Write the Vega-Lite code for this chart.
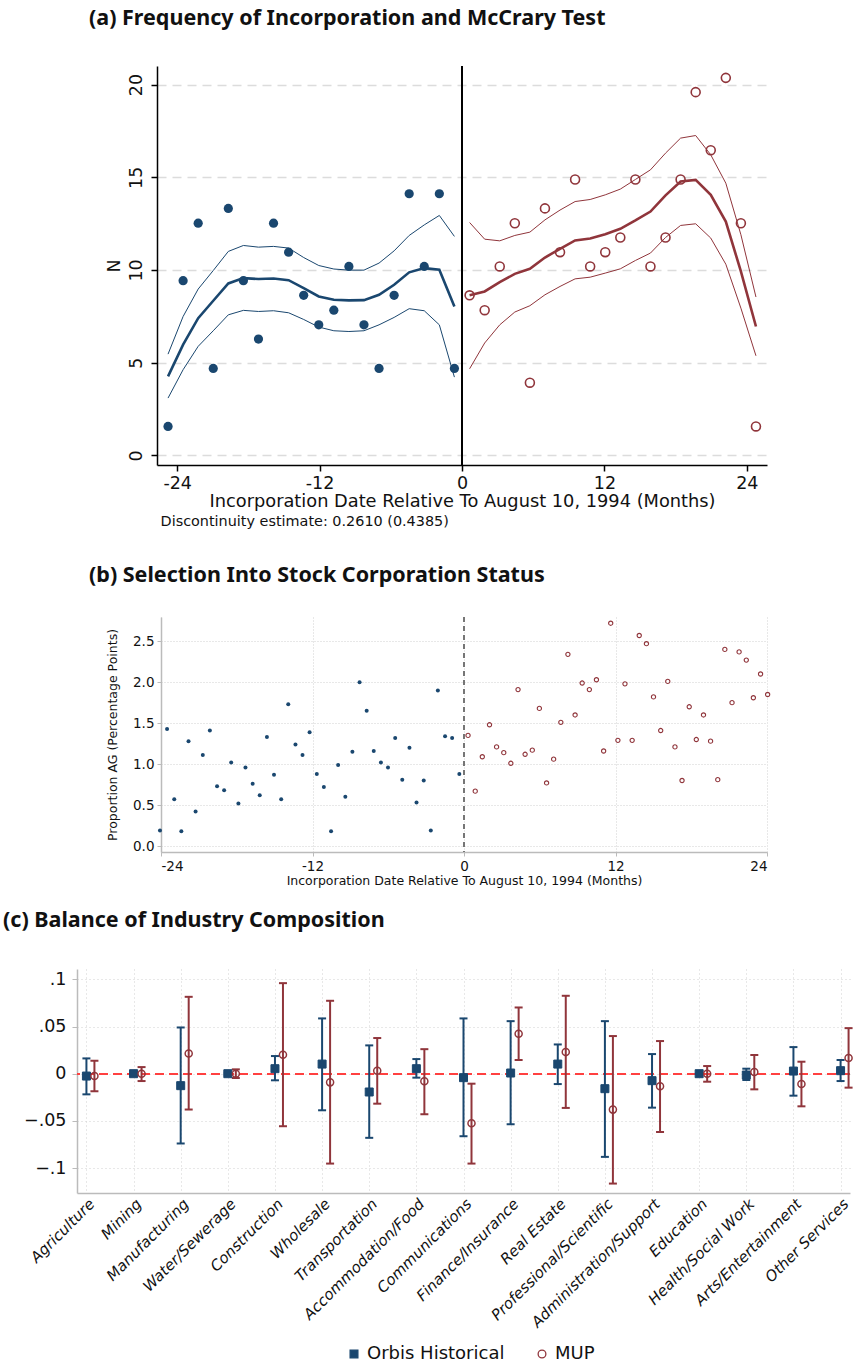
{
  "$schema": "https://vega.github.io/schema/vega-lite/v6.json",
  "background": "white",
  "padding": {"left": 3, "top": 7, "right": 0, "bottom": 0},
  "spacing": 22,
  "config": {
    "view": {"stroke": null},
    "font": "DejaVu Sans",
    "title": {"font": "Noto Sans", "fontWeight": "bold", "fontSize": 21.5, "anchor": "start", "color": "#111111", "frame": "group"},
    "axis": {"labelColor": "#111111", "titleColor": "#111111", "titleFontWeight": "normal", "labelFont": "DejaVu Sans", "titleFont": "DejaVu Sans"}
  },
  "datasets": {
    "a": [
      {"x": -24.77, "n": 1.56, "fit": 4.26, "hi": 5.46, "lo": 3.09, "side": "pre"},
      {"x": -23.50, "n": 9.42, "fit": 5.97, "hi": 7.49, "lo": 4.62, "side": "pre"},
      {"x": -22.23, "n": 12.52, "fit": 7.40, "hi": 8.97, "lo": 5.88, "side": "pre"},
      {"x": -20.96, "n": 4.69, "fit": 8.34, "hi": 9.97, "lo": 6.72, "side": "pre"},
      {"x": -19.69, "n": 13.32, "fit": 9.27, "hi": 11.00, "lo": 7.58, "side": "pre"},
      {"x": -18.42, "n": 9.42, "fit": 9.56, "hi": 11.32, "lo": 7.82, "side": "pre"},
      {"x": -17.15, "n": 6.27, "fit": 9.51, "hi": 11.23, "lo": 7.76, "side": "pre"},
      {"x": -15.88, "n": 12.52, "fit": 9.54, "hi": 11.27, "lo": 7.80, "side": "pre"},
      {"x": -14.61, "n": 10.96, "fit": 9.45, "hi": 11.18, "lo": 7.69, "side": "pre"},
      {"x": -13.34, "n": 8.63, "fit": 9.02, "hi": 10.67, "lo": 7.33, "side": "pre"},
      {"x": -12.07, "n": 7.04, "fit": 8.57, "hi": 10.24, "lo": 6.92, "side": "pre"},
      {"x": -10.80, "n": 7.83, "fit": 8.39, "hi": 10.05, "lo": 6.72, "side": "pre"},
      {"x": -9.53, "n": 10.19, "fit": 8.36, "hi": 9.99, "lo": 6.68, "side": "pre"},
      {"x": -8.26, "n": 7.04, "fit": 8.37, "hi": 9.99, "lo": 6.72, "side": "pre"},
      {"x": -6.99, "n": 4.69, "fit": 8.66, "hi": 10.37, "lo": 7.04, "side": "pre"},
      {"x": -5.72, "n": 8.63, "fit": 9.20, "hi": 11.03, "lo": 7.44, "side": "pre"},
      {"x": -4.45, "n": 14.11, "fit": 9.87, "hi": 11.86, "lo": 7.91, "side": "pre"},
      {"x": -3.18, "n": 10.19, "fit": 10.10, "hi": 12.43, "lo": 7.80, "side": "pre"},
      {"x": -1.91, "n": 14.11, "fit": 10.01, "hi": 12.94, "lo": 7.04, "side": "pre"},
      {"x": -0.64, "n": 4.69, "fit": 8.03, "hi": 11.81, "lo": 4.22, "side": "pre"},
      {"x": 0.64, "n": 8.63, "fit": 8.63, "hi": 12.56, "lo": 4.67, "side": "post"},
      {"x": 1.91, "n": 7.83, "fit": 8.84, "hi": 11.66, "lo": 6.06, "side": "post"},
      {"x": 3.18, "n": 10.19, "fit": 9.34, "hi": 11.57, "lo": 7.04, "side": "post"},
      {"x": 4.45, "n": 12.52, "fit": 9.79, "hi": 11.86, "lo": 7.73, "side": "post"},
      {"x": 5.72, "n": 3.92, "fit": 10.06, "hi": 12.04, "lo": 8.07, "side": "post"},
      {"x": 6.99, "n": 13.32, "fit": 10.67, "hi": 12.70, "lo": 8.66, "side": "post"},
      {"x": 8.26, "n": 10.96, "fit": 11.14, "hi": 13.23, "lo": 9.11, "side": "post"},
      {"x": 9.53, "n": 14.88, "fit": 11.59, "hi": 13.69, "lo": 9.52, "side": "post"},
      {"x": 10.80, "n": 10.19, "fit": 11.70, "hi": 13.80, "lo": 9.61, "side": "post"},
      {"x": 12.07, "n": 10.96, "fit": 11.93, "hi": 14.05, "lo": 9.83, "side": "post"},
      {"x": 13.34, "n": 11.75, "fit": 12.22, "hi": 14.36, "lo": 10.06, "side": "post"},
      {"x": 14.61, "n": 14.88, "fit": 12.67, "hi": 14.88, "lo": 10.51, "side": "post"},
      {"x": 15.88, "n": 10.19, "fit": 13.15, "hi": 15.40, "lo": 10.91, "side": "post"},
      {"x": 17.15, "n": 11.75, "fit": 14.02, "hi": 16.30, "lo": 11.75, "side": "post"},
      {"x": 18.42, "n": 14.88, "fit": 14.77, "hi": 17.11, "lo": 12.40, "side": "post"},
      {"x": 19.69, "n": 19.59, "fit": 14.86, "hi": 17.25, "lo": 12.49, "side": "post"},
      {"x": 20.96, "n": 16.46, "fit": 14.05, "hi": 16.21, "lo": 11.72, "side": "post"},
      {"x": 22.23, "n": 20.36, "fit": 12.61, "hi": 14.68, "lo": 10.31, "side": "post"},
      {"x": 23.50, "n": 12.52, "fit": 9.92, "hi": 11.90, "lo": 7.94, "side": "post"},
      {"x": 24.77, "n": 1.56, "fit": 6.95, "hi": 8.54, "lo": 5.37, "side": "post"}
    ],
    "b": [
      {"x": -24.08, "y": 0.19, "side": "pre"}, {"x": -23.52, "y": 1.43, "side": "pre"}, {"x": -22.95, "y": 0.57, "side": "pre"},
      {"x": -22.39, "y": 0.18, "side": "pre"}, {"x": -21.82, "y": 1.28, "side": "pre"}, {"x": -21.26, "y": 0.42, "side": "pre"},
      {"x": -20.69, "y": 1.11, "side": "pre"}, {"x": -20.13, "y": 1.41, "side": "pre"}, {"x": -19.56, "y": 0.73, "side": "pre"},
      {"x": -19.00, "y": 0.68, "side": "pre"}, {"x": -18.44, "y": 1.02, "side": "pre"}, {"x": -17.87, "y": 0.52, "side": "pre"},
      {"x": -17.31, "y": 0.96, "side": "pre"}, {"x": -16.74, "y": 0.76, "side": "pre"}, {"x": -16.18, "y": 0.62, "side": "pre"},
      {"x": -15.61, "y": 1.33, "side": "pre"}, {"x": -15.05, "y": 0.87, "side": "pre"}, {"x": -14.48, "y": 0.57, "side": "pre"},
      {"x": -13.92, "y": 1.73, "side": "pre"}, {"x": -13.35, "y": 1.24, "side": "pre"}, {"x": -12.79, "y": 1.11, "side": "pre"},
      {"x": -12.23, "y": 1.39, "side": "pre"}, {"x": -11.66, "y": 0.88, "side": "pre"}, {"x": -11.10, "y": 0.72, "side": "pre"},
      {"x": -10.53, "y": 0.18, "side": "pre"}, {"x": -9.97, "y": 0.99, "side": "pre"}, {"x": -9.40, "y": 0.60, "side": "pre"},
      {"x": -8.84, "y": 1.15, "side": "pre"}, {"x": -8.27, "y": 2.00, "side": "pre"}, {"x": -7.71, "y": 1.65, "side": "pre"},
      {"x": -7.15, "y": 1.16, "side": "pre"}, {"x": -6.58, "y": 1.02, "side": "pre"}, {"x": -6.02, "y": 0.96, "side": "pre"},
      {"x": -5.45, "y": 1.32, "side": "pre"}, {"x": -4.89, "y": 0.81, "side": "pre"}, {"x": -4.32, "y": 1.20, "side": "pre"},
      {"x": -3.76, "y": 0.53, "side": "pre"}, {"x": -3.19, "y": 0.80, "side": "pre"}, {"x": -2.63, "y": 0.19, "side": "pre"},
      {"x": -2.07, "y": 1.90, "side": "pre"}, {"x": -1.50, "y": 1.34, "side": "pre"}, {"x": -0.94, "y": 1.32, "side": "pre"},
      {"x": -0.37, "y": 0.88, "side": "pre"},
      {"x": 0.32, "y": 1.35, "side": "post"}, {"x": 0.89, "y": 0.67, "side": "post"}, {"x": 1.45, "y": 1.09, "side": "post"},
      {"x": 2.02, "y": 1.48, "side": "post"}, {"x": 2.58, "y": 1.21, "side": "post"}, {"x": 3.15, "y": 1.14, "side": "post"},
      {"x": 3.71, "y": 1.01, "side": "post"}, {"x": 4.28, "y": 1.91, "side": "post"}, {"x": 4.84, "y": 1.12, "side": "post"},
      {"x": 5.41, "y": 1.17, "side": "post"}, {"x": 5.97, "y": 1.68, "side": "post"}, {"x": 6.54, "y": 0.77, "side": "post"},
      {"x": 7.10, "y": 1.06, "side": "post"}, {"x": 7.67, "y": 1.51, "side": "post"}, {"x": 8.23, "y": 2.34, "side": "post"},
      {"x": 8.80, "y": 1.60, "side": "post"}, {"x": 9.36, "y": 1.99, "side": "post"}, {"x": 9.93, "y": 1.91, "side": "post"},
      {"x": 10.49, "y": 2.03, "side": "post"}, {"x": 11.06, "y": 1.16, "side": "post"}, {"x": 11.62, "y": 2.72, "side": "post"},
      {"x": 12.19, "y": 1.29, "side": "post"}, {"x": 12.75, "y": 1.98, "side": "post"}, {"x": 13.32, "y": 1.29, "side": "post"},
      {"x": 13.88, "y": 2.57, "side": "post"}, {"x": 14.45, "y": 2.47, "side": "post"}, {"x": 15.01, "y": 1.82, "side": "post"},
      {"x": 15.58, "y": 1.41, "side": "post"}, {"x": 16.14, "y": 2.01, "side": "post"}, {"x": 16.71, "y": 1.21, "side": "post"},
      {"x": 17.27, "y": 0.80, "side": "post"}, {"x": 17.84, "y": 1.70, "side": "post"}, {"x": 18.40, "y": 1.30, "side": "post"},
      {"x": 18.97, "y": 1.60, "side": "post"}, {"x": 19.53, "y": 1.28, "side": "post"}, {"x": 20.10, "y": 0.81, "side": "post"},
      {"x": 20.66, "y": 2.40, "side": "post"}, {"x": 21.23, "y": 1.75, "side": "post"}, {"x": 21.79, "y": 2.37, "side": "post"},
      {"x": 22.36, "y": 2.27, "side": "post"}, {"x": 22.92, "y": 1.81, "side": "post"}, {"x": 23.49, "y": 2.10, "side": "post"},
      {"x": 24.05, "y": 1.85, "side": "post"}
    ],
    "c": [
      {"industry": "Agriculture", "series": "Orbis Historical", "est": -0.0025, "lo": -0.0219, "hi": 0.0162},
      {"industry": "Agriculture", "series": "MUP", "est": -0.0025, "lo": -0.0187, "hi": 0.0138},
      {"industry": "Mining", "series": "Orbis Historical", "est": 0, "lo": 0, "hi": 0},
      {"industry": "Mining", "series": "MUP", "est": 0, "lo": -0.0078, "hi": 0.007},
      {"industry": "Manufacturing", "series": "Orbis Historical", "est": -0.0127, "lo": -0.074, "hi": 0.049},
      {"industry": "Manufacturing", "series": "MUP", "est": 0.0215, "lo": -0.038, "hi": 0.0815},
      {"industry": "Water/Sewerage", "series": "Orbis Historical", "est": 0, "lo": -0.001, "hi": 0.001},
      {"industry": "Water/Sewerage", "series": "MUP", "est": 0, "lo": -0.0046, "hi": 0.0046},
      {"industry": "Construction", "series": "Orbis Historical", "est": 0.0053, "lo": -0.007, "hi": 0.0187},
      {"industry": "Construction", "series": "MUP", "est": 0.020, "lo": -0.0557, "hi": 0.096},
      {"industry": "Wholesale", "series": "Orbis Historical", "est": 0.0102, "lo": -0.0388, "hi": 0.0586},
      {"industry": "Wholesale", "series": "MUP", "est": -0.0092, "lo": -0.0953, "hi": 0.0773},
      {"industry": "Transportation", "series": "Orbis Historical", "est": -0.0194, "lo": -0.068, "hi": 0.030},
      {"industry": "Transportation", "series": "MUP", "est": 0.0032, "lo": -0.0318, "hi": 0.0378},
      {"industry": "Accommodation/Food", "series": "Orbis Historical", "est": 0.0053, "lo": -0.0042, "hi": 0.0155},
      {"industry": "Accommodation/Food", "series": "MUP", "est": -0.0081, "lo": -0.043, "hi": 0.026},
      {"industry": "Communications", "series": "Orbis Historical", "est": -0.0042, "lo": -0.0663, "hi": 0.0586},
      {"industry": "Communications", "series": "MUP", "est": -0.0526, "lo": -0.0953, "hi": -0.0106},
      {"industry": "Finance/Insurance", "series": "Orbis Historical", "est": 0.0007, "lo": -0.0536, "hi": 0.0557},
      {"industry": "Finance/Insurance", "series": "MUP", "est": 0.0423, "lo": 0.0145, "hi": 0.0702},
      {"industry": "Real Estate", "series": "Orbis Historical", "est": 0.0102, "lo": -0.011, "hi": 0.031},
      {"industry": "Real Estate", "series": "MUP", "est": 0.0229, "lo": -0.0363, "hi": 0.0826},
      {"industry": "Professional/Scientific", "series": "Orbis Historical", "est": -0.0159, "lo": -0.0882, "hi": 0.0557},
      {"industry": "Professional/Scientific", "series": "MUP", "est": -0.0381, "lo": -0.1165, "hi": 0.0399},
      {"industry": "Administration/Support", "series": "Orbis Historical", "est": -0.0074, "lo": -0.036, "hi": 0.0208},
      {"industry": "Administration/Support", "series": "MUP", "est": -0.0134, "lo": -0.0618, "hi": 0.0346},
      {"industry": "Education", "series": "Orbis Historical", "est": 0, "lo": 0, "hi": 0},
      {"industry": "Education", "series": "MUP", "est": 0, "lo": -0.0085, "hi": 0.0081},
      {"industry": "Health/Social Work", "series": "Orbis Historical", "est": -0.0014, "lo": -0.0067, "hi": 0.0053},
      {"industry": "Health/Social Work", "series": "MUP", "est": 0.0018, "lo": -0.0166, "hi": 0.0198},
      {"industry": "Arts/Entertainment", "series": "Orbis Historical", "est": 0.0028, "lo": -0.0233, "hi": 0.0282},
      {"industry": "Arts/Entertainment", "series": "MUP", "est": -0.011, "lo": -0.0346, "hi": 0.0127},
      {"industry": "Other Services", "series": "Orbis Historical", "est": 0.0032, "lo": -0.0078, "hi": 0.0145},
      {"industry": "Other Services", "series": "MUP", "est": 0.0166, "lo": -0.0148, "hi": 0.0483}
    ]
  },
  "vconcat": [
    {
      "spacing": 36,
      "vconcat": [
        {
          "width": 690,
          "height": 399,
          "title": {"text": "(a) Frequency of Incorporation and McCrary Test", "dx": 12, "offset": 36},
          "data": {"name": "a"},
          "layer": [
            {
              "mark": {"type": "rule", "color": "black", "strokeWidth": 1.5},
              "encoding": {
                "x": {"datum": 0, "type": "quantitative",
                  "scale": {"domain": [-25.7, 25.7], "range": [80, 690], "nice": false, "zero": false},
                  "axis": {"values": [-24, -12, 0, 12, 24], "labelExpr": "'' + datum.value", "labelFontSize": 17.5, "labelPadding": 3,
                    "title": "Incorporation Date Relative To August 10, 1994 (Months)", "titleFontSize": 17.8, "titlePadding": 1,
                    "domainColor": "black", "domainWidth": 1.5, "tickColor": "black", "tickWidth": 1.5, "tickSize": 6, "grid": false}}
              }
            },
            {
              "transform": [{"filter": "datum.side == 'pre'"}],
              "mark": {"type": "point", "filled": true, "color": "#1a476f", "size": 85, "opacity": 1},
              "encoding": {
                "x": {"field": "x", "type": "quantitative"},
                "y": {"field": "n", "type": "quantitative",
                  "scale": {"domain": [-0.52, 21], "nice": false, "zero": false},
                  "axis": {"values": [0, 5, 10, 15, 20], "labelAngle": -90, "labelFontSize": 17.5, "labelPadding": 6,
                    "title": "N", "titleFontSize": 17.5, "titlePadding": 4, "offset": -80,
                    "domainColor": "black", "domainWidth": 1.5, "tickColor": "black", "tickWidth": 1.5, "tickSize": 6,
                    "grid": true, "gridColor": "#dcdcdc", "gridDash": [9, 6], "gridWidth": 1.5}}
              }
            },
            {
              "transform": [{"filter": "datum.side == 'post'"}],
              "mark": {"type": "point", "filled": false, "color": "#90353b", "size": 80, "strokeWidth": 1.6, "opacity": 1},
              "encoding": {
                "x": {"field": "x", "type": "quantitative"},
                "y": {"field": "n", "type": "quantitative"}
              }
            },
            {
              "mark": {"type": "line", "strokeWidth": 2.6},
              "encoding": {
                "x": {"field": "x", "type": "quantitative"},
                "y": {"field": "fit", "type": "quantitative"},
                "color": {"field": "side", "type": "nominal", "scale": {"domain": ["pre", "post"], "range": ["#1a476f", "#90353b"]}, "legend": null}
              }
            },
            {
              "mark": {"type": "line", "strokeWidth": 1},
              "encoding": {
                "x": {"field": "x", "type": "quantitative"},
                "y": {"field": "hi", "type": "quantitative"},
                "color": {"field": "side", "type": "nominal", "legend": null}
              }
            },
            {
              "mark": {"type": "line", "strokeWidth": 1},
              "encoding": {
                "x": {"field": "x", "type": "quantitative"},
                "y": {"field": "lo", "type": "quantitative"},
                "color": {"field": "side", "type": "nominal", "legend": null}
              }
            },
            {
              "data": {"values": [{"t": "Discontinuity estimate: 0.2610 (0.4385)"}]},
              "mark": {"type": "text", "align": "left", "baseline": "middle", "fontSize": 14.4, "dy": 57, "color": "#111111", "font": "DejaVu Sans"},
              "encoding": {
                "x": {"datum": -25.4, "type": "quantitative"},
                "y": {"datum": -0.52, "type": "quantitative"},
                "text": {"field": "t", "type": "nominal"}
              }
            }
          ]
        },
        {
          "width": 692,
          "height": 235,
          "title": {"text": "(b) Selection Into Stock Corporation Status", "dx": 12, "offset": 30},
          "data": {"name": "b"},
          "layer": [
            {
              "mark": {"type": "rule", "color": "#777777", "strokeWidth": 1, "strokeDash": [5, 4]},
              "encoding": {
                "x": {"datum": 0, "type": "quantitative",
                  "scale": {"domain": [-24, 24], "range": [84, 690], "nice": false, "zero": false},
                  "axis": {"values": [-24, -12, 0, 12, 24], "labelExpr": "'' + datum.value", "labelFontSize": 13.5, "labelPadding": 3,
                    "title": "Incorporation Date Relative To August 10, 1994 (Months)", "titleFontSize": 12.5, "titlePadding": 2,
                    "domainColor": "#bbbbbb", "domainWidth": 1.5, "tickColor": "#bbbbbb", "tickSize": 4,
                    "grid": true, "gridColor": "#d0d0d0", "gridDash": [1, 2]}}
              }
            },
            {
              "transform": [{"filter": "datum.side == 'pre'"}],
              "mark": {"type": "point", "filled": true, "color": "#1a476f", "size": 16, "opacity": 1},
              "encoding": {
                "x": {"field": "x", "type": "quantitative"},
                "y": {"field": "y", "type": "quantitative",
                  "scale": {"domain": [-0.073, 2.796], "nice": false, "zero": false},
                  "axis": {"values": [0, 0.5, 1, 1.5, 2, 2.5], "format": ".1f", "labelFontSize": 13.5, "labelPadding": 3,
                    "title": "Proportion AG (Percentage Points)", "titleFontSize": 12.5, "titlePadding": 13, "offset": -84,
                    "domainColor": "#bbbbbb", "domainWidth": 1.5, "tickColor": "#bbbbbb", "tickSize": 4,
                    "grid": true, "gridColor": "#d0d0d0", "gridDash": [1, 2]}}
              }
            },
            {
              "transform": [{"filter": "datum.side == 'post'"}],
              "mark": {"type": "point", "filled": false, "color": "#90353b", "size": 18, "strokeWidth": 1.1, "opacity": 1},
              "encoding": {
                "x": {"field": "x", "type": "quantitative"},
                "y": {"field": "y", "type": "quantitative"}
              }
            }
          ]
        }
      ]
    },
    {
      "width": 773,
      "height": 224,
      "title": {"text": "(c) Balance of Industry Composition", "dx": -74, "offset": 38},
      "data": {"name": "c"},
      "layer": [
        {
          "mark": {"type": "rule", "color": "#ff4040", "strokeWidth": 1.5, "strokeDash": [9, 5]},
          "encoding": {
            "y": {"datum": 0, "type": "quantitative",
              "scale": {"domain": [-0.1265, 0.111], "nice": false, "zero": false},
              "axis": {"values": [-0.1, -0.05, 0, 0.05, 0.1], "labelExpr": "datum.value == 0 ? '0' : replace(format(datum.value, '.2~f'), '0.', '.')",
                "labelFontSize": 17.5, "labelPadding": 6, "title": null,
                "domainColor": "#bbbbbb", "domainWidth": 1.5, "tickColor": "#bbbbbb", "tickSize": 5,
                "grid": true, "gridColor": "#d0d0d0", "gridDash": [1, 3]}}
          }
        },
        {
          "transform": [{"filter": "datum.series == 'Orbis Historical'"}],
          "mark": {"type": "rule", "color": "#1a476f", "strokeWidth": 2},
          "encoding": {
            "x": {"field": "industry", "type": "nominal",
              "scale": {"type": "point", "padding": 0.2, "domain": ["Agriculture", "Mining", "Manufacturing", "Water/Sewerage", "Construction", "Wholesale", "Transportation", "Accommodation/Food", "Communications", "Finance/Insurance", "Real Estate", "Professional/Scientific", "Administration/Support", "Education", "Health/Social Work", "Arts/Entertainment", "Other Services"]},
              "axis": {"labelAngle": -45, "labelFontStyle": "italic", "labelFontSize": 15, "labelPadding": 3, "title": null, "ticks": false,
                "domainColor": "#bbbbbb", "domainWidth": 1.5, "grid": true, "gridColor": "#d0d0d0", "gridDash": [1, 3]}},
            "y": {"field": "lo", "type": "quantitative"},
            "y2": {"field": "hi"}
          }
        },
        {
          "transform": [{"filter": "datum.series == 'Orbis Historical'"}],
          "mark": {"type": "tick", "color": "#1a476f", "thickness": 2, "size": 8, "opacity": 1},
          "encoding": {"x": {"field": "industry", "type": "nominal"}, "y": {"field": "lo", "type": "quantitative"}}
        },
        {
          "transform": [{"filter": "datum.series == 'Orbis Historical'"}],
          "mark": {"type": "tick", "color": "#1a476f", "thickness": 2, "size": 8, "opacity": 1},
          "encoding": {"x": {"field": "industry", "type": "nominal"}, "y": {"field": "hi", "type": "quantitative"}}
        },
        {
          "transform": [{"filter": "datum.series == 'MUP'"}],
          "mark": {"type": "rule", "color": "#90353b", "strokeWidth": 2, "xOffset": 8},
          "encoding": {"x": {"field": "industry", "type": "nominal"}, "y": {"field": "lo", "type": "quantitative"}, "y2": {"field": "hi"}}
        },
        {
          "transform": [{"filter": "datum.series == 'MUP'"}],
          "mark": {"type": "tick", "color": "#90353b", "thickness": 2, "size": 8, "opacity": 1, "xOffset": 8},
          "encoding": {"x": {"field": "industry", "type": "nominal"}, "y": {"field": "lo", "type": "quantitative"}}
        },
        {
          "transform": [{"filter": "datum.series == 'MUP'"}],
          "mark": {"type": "tick", "color": "#90353b", "thickness": 2, "size": 8, "opacity": 1, "xOffset": 8},
          "encoding": {"x": {"field": "industry", "type": "nominal"}, "y": {"field": "hi", "type": "quantitative"}}
        },
        {
          "transform": [{"filter": "datum.series == 'Orbis Historical'"}],
          "mark": {"type": "point", "strokeWidth": 1, "size": 64, "opacity": 1},
          "encoding": {
            "x": {"field": "industry", "type": "nominal"},
            "y": {"field": "est", "type": "quantitative"},
            "shape": {"field": "series", "type": "nominal", "scale": {"domain": ["Orbis Historical", "MUP"], "range": ["square", "circle"]},
              "legend": {"title": null, "orient": "none", "legendX": 268, "legendY": 1279, "direction": "horizontal", "labelFontSize": 18, "labelFont": "DejaVu Sans", "labelColor": "#111111", "symbolSize": 60, "symbolStrokeWidth": 1.3, "columnPadding": 28, "padding": 0}},
            "fill": {"field": "series", "type": "nominal", "scale": {"domain": ["Orbis Historical", "MUP"], "range": ["#1a476f", "transparent"]},
              "legend": {"title": null, "orient": "none", "legendX": 268, "legendY": 1279, "direction": "horizontal", "labelFontSize": 18, "labelFont": "DejaVu Sans", "labelColor": "#111111", "symbolSize": 60, "symbolStrokeWidth": 1.3, "columnPadding": 28, "padding": 0}},
            "stroke": {"field": "series", "type": "nominal", "scale": {"domain": ["Orbis Historical", "MUP"], "range": ["#1a476f", "#90353b"]},
              "legend": {"title": null, "orient": "none", "legendX": 268, "legendY": 1279, "direction": "horizontal", "labelFontSize": 18, "labelFont": "DejaVu Sans", "labelColor": "#111111", "symbolSize": 60, "symbolStrokeWidth": 1.3, "columnPadding": 28, "padding": 0}}
          }
        },
        {
          "transform": [{"filter": "datum.series == 'MUP'"}],
          "mark": {"type": "point", "strokeWidth": 1.5, "size": 50, "opacity": 1, "xOffset": 8},
          "encoding": {
            "x": {"field": "industry", "type": "nominal"},
            "y": {"field": "est", "type": "quantitative"},
            "shape": {"field": "series", "type": "nominal"},
            "fill": {"field": "series", "type": "nominal"},
            "stroke": {"field": "series", "type": "nominal"}
          }
        }
      ]
    }
  ]
}
